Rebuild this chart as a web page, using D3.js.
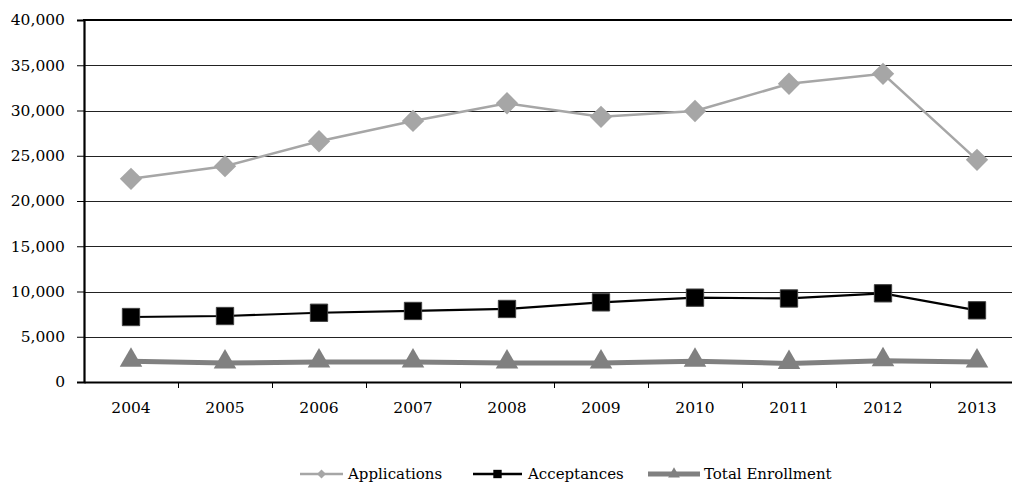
<!DOCTYPE html>
<html><head><meta charset="utf-8">
<script src="https://cdn.jsdelivr.net/npm/d3@7"></script>
<style>html,body{margin:0;padding:0;background:#fff;overflow:hidden}svg{display:block}</style>
</head><body>
<script>
const years = ["2004","2005","2006","2007","2008","2009","2010","2011","2012","2013"];
const applications = [22450, 23850, 26600, 28850, 30800, 29300, 29950, 32950, 34050, 24550];
const acceptances = [7180, 7290, 7650, 7850, 8070, 8800, 9320, 9230, 9800, 7920];
const enrollment = [2300, 2100, 2200, 2200, 2100, 2100, 2300, 2050, 2350, 2200];
const yTicks = [0, 5000, 10000, 15000, 20000, 25000, 30000, 35000, 40000];
const seriesNames = ["Applications", "Acceptances", "Total Enrollment"];

const W = 1012, H = 482;
const svg = d3.select("body").append("svg").attr("width", W).attr("height", H);
const font = "'DejaVu Serif', 'Liberation Serif', serif";

const x = d3.scaleBand().domain(years).range([84, 1024]).paddingInner(0).paddingOuter(0);
const y = d3.scaleLinear().domain([0, 40000]).range([382, 20]);
const cx = d => x(d) + x.bandwidth() / 2;

// gridlines
svg.append("g").selectAll("line").data(yTicks.filter(t => t > 0 && t < 40000)).join("line")
  .attr("x1", 84).attr("x2", W).attr("y1", d => Math.round(y(d)) + 0.5).attr("y2", d => Math.round(y(d)) + 0.5)
  .attr("stroke", "#222").attr("stroke-width", 1);
// top border
svg.append("line").attr("x1", 83).attr("x2", W).attr("y1", y(40000)).attr("y2", y(40000))
  .attr("stroke", "#000").attr("stroke-width", 2);

// y axis
const yAxis = d3.axisLeft(y).tickValues(yTicks).tickSize(7).tickPadding(12).tickFormat(d3.format(","));
const gy = svg.append("g").attr("transform", "translate(84,0)").call(yAxis);
gy.select(".domain").attr("stroke", "#000").attr("stroke-width", 2.2);
gy.selectAll(".tick line").attr("stroke", "#000").attr("stroke-width", 1);
gy.selectAll("text").attr("font-family", font).attr("font-size", 15.5).attr("fill", "#000");

// x axis
const xAxis = d3.axisBottom(x).tickSize(0).tickPadding(20);
const gx = svg.append("g").attr("transform", "translate(0,382)").call(xAxis);
gx.select(".domain").attr("stroke", "#000").attr("stroke-width", 2.2);
gx.selectAll("text").attr("font-family", font).attr("font-size", 15.5).attr("fill", "#000");
// boundary ticks
gx.append("g").selectAll("line").data(years.slice(1)).join("line")
  .attr("x1", d => x(d) + 0.5).attr("x2", d => x(d) + 0.5).attr("y1", 0).attr("y2", 6)
  .attr("stroke", "#000").attr("stroke-width", 1);

const line = d3.line().x(d => cx(d[0])).y(d => y(d[1]));
const zip = arr => years.map((yr, i) => [yr, arr[i]]);

const diamond = d3.symbol().type(d3.symbolSquare).size(250);
const square = d3.symbol().type(d3.symbolSquare).size(300);
const tri = d3.symbol().type(d3.symbolTriangle).size(220);

// Applications
svg.append("path").datum(zip(applications)).attr("d", line).attr("fill", "none")
  .attr("stroke", "#a6a6a6").attr("stroke-width", 2.5);
svg.append("g").selectAll("path").data(zip(applications)).join("path")
  .attr("d", diamond).attr("transform", d => `translate(${cx(d[0])},${y(d[1])}) rotate(45)`)
  .attr("fill", "#a6a6a6");

// Acceptances
svg.append("path").datum(zip(acceptances)).attr("d", line).attr("fill", "none")
  .attr("stroke", "#000").attr("stroke-width", 2.2);
svg.append("g").selectAll("path").data(zip(acceptances)).join("path")
  .attr("d", square).attr("transform", d => `translate(${cx(d[0])},${y(d[1])})`)
  .attr("fill", "#000").attr("stroke", "#404040").attr("stroke-width", 1);

// Enrollment
svg.append("path").datum(zip(enrollment)).attr("d", line).attr("fill", "none")
  .attr("stroke", "#808080").attr("stroke-width", 5);
svg.append("g").selectAll("path").data(zip(enrollment)).join("path")
  .attr("d", tri).attr("transform", d => `translate(${cx(d[0])},${y(d[1]) - 1})`)
  .attr("fill", "#808080");

// legend
const ly = 474;
const leg = [
  {x0: 300, x1: 343, tx: 348, color: "#a6a6a6", w: 2.5, sym: d3.symbol().type(d3.symbolSquare).size(40), rot: 45},
  {x0: 473, x1: 522, tx: 528, color: "#000", w: 2.5, sym: d3.symbol().type(d3.symbolSquare).size(70), rot: 0},
  {x0: 648, x1: 700, tx: 704, color: "#808080", w: 5, sym: d3.symbol().type(d3.symbolTriangle).size(60), rot: 0}
];
const lg = svg.append("g").selectAll("g").data(leg).join("g");
lg.append("line").attr("x1", d => d.x0).attr("x2", d => d.x1).attr("y1", ly).attr("y2", ly)
  .attr("stroke", d => d.color).attr("stroke-width", d => d.w);
lg.append("path").attr("d", d => d.sym()).attr("transform", d => `translate(${(d.x0 + d.x1) / 2},${ly}) rotate(${d.rot})`)
  .attr("fill", d => d.color);
lg.append("text").attr("x", d => d.tx).attr("y", ly + 5).text((d, i) => seriesNames[i])
  .attr("font-family", font).attr("font-size", 15).attr("fill", "#000");
</script>
</body></html>
